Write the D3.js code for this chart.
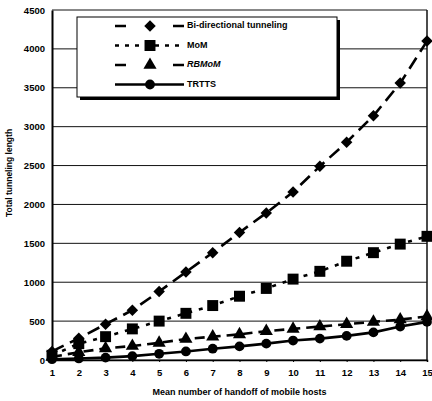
<!DOCTYPE html>
<html>
<head>
<meta charset="utf-8">
<script src="https://cdn.jsdelivr.net/npm/d3@7"></script>
<style>
  html, body { margin: 0; padding: 0; background: #fff; }
  svg { display: block; }
</style>
</head>
<body>
<div id="chart"></div>
<script>
// Total tunneling length vs mean number of handoffs, four schemes.

const handoffs   = [1, 2, 3, 4, 5, 6, 7, 8, 9, 10, 11, 12, 13, 14, 15];
const bidir      = [110, 280, 460, 640, 880, 1130, 1380, 1640, 1890, 2160, 2490, 2800, 3140, 3560, 4100];
const mom        = [60, 210, 300, 400, 500, 600, 700, 820, 920, 1040, 1140, 1270, 1380, 1490, 1590];
const rbmom      = [40, 100, 150, 180, 220, 270, 300, 330, 370, 400, 430, 460, 490, 520, 560];
const trtts      = [10, 20, 30, 50, 80, 110, 145, 175, 210, 250, 275, 310, 355, 430, 490];
const yTicks     = [0, 500, 1000, 1500, 2000, 2500, 3000, 3500, 4000, 4500];
const seriesNames = ["Bi-directional tunneling", "MoM", "RBMoM", "TRTTS"];

const SERIES = [
  { name: seriesNames[0], values: bidir, dash: "13,7", legendDash: "11,47", symbol: "diamond",  italic: false },
  { name: seriesNames[1], values: mom,   dash: "4,7",  legendDash: "4,6",   symbol: "square",   italic: false },
  { name: seriesNames[2], values: rbmom, dash: "10,6", legendDash: "11,47", symbol: "triangle", italic: true  },
  { name: seriesNames[3], values: trtts, dash: null,   legendDash: null,    symbol: "circle",   italic: false },
];

const W = 432, H = 401;
const m = { top: 10, right: 5, bottom: 41, left: 52 };
const iw = W - m.left - m.right;
const ih = H - m.top - m.bottom;
const FONT = "'Liberation Sans', Arial, sans-serif";

const x = d3.scaleLinear().domain([1, 15]).range([0, iw]);
const y = d3.scaleLinear().domain([0, 4500]).range([ih, 0]);

const svg = d3.select("#chart").append("svg")
  .attr("width", W).attr("height", H);

const g = svg.append("g").attr("transform", `translate(${m.left},${m.top})`);

function markerPath(kind) {
  if (kind === "diamond")  return d3.symbol(d3.symbolSquare, 66)();
  if (kind === "square")   return d3.symbol(d3.symbolSquare, 120)();
  if (kind === "triangle") return d3.symbol(d3.symbolTriangle, 75)();
  return d3.symbol(d3.symbolCircle, 75)();
}
function markerRot(kind) { return kind === "diamond" ? " rotate(45)" : ""; }

// Grid
g.selectAll(".grid").data(yTicks).join("line")
  .attr("x1", 0).attr("x2", iw)
  .attr("y1", d => y(d)).attr("y2", d => y(d))
  .attr("stroke", "#111").attr("stroke-width", 1);

// Frame
g.append("line").attr("x1", iw).attr("x2", iw).attr("y1", 0).attr("y2", ih)
  .attr("stroke", "#111").attr("stroke-width", 1.5);

// Y axis
const yAxisG = g.append("g")
  .call(d3.axisLeft(y).tickValues(yTicks).tickSize(0).tickPadding(7).tickFormat(d3.format("d")));
yAxisG.select(".domain").attr("stroke", "#000").attr("stroke-width", 2);
yAxisG.selectAll("text")
  .attr("fill", "#000").attr("font-size", "9.5px").attr("font-weight", "bold")
  .attr("font-family", FONT);

// X axis
const xAxisG = g.append("g")
  .attr("transform", `translate(0,${ih})`)
  .call(d3.axisBottom(x).tickValues(handoffs).tickSize(2).tickPadding(7).tickFormat(d3.format("d")));
xAxisG.select(".domain").attr("stroke", "#000").attr("stroke-width", 1.5);
xAxisG.selectAll(".tick line").attr("stroke", "#000");
xAxisG.selectAll("text")
  .attr("fill", "#000").attr("font-size", "9.5px").attr("font-weight", "bold")
  .attr("font-family", FONT);

// Series
SERIES.forEach(s => {
  const pts = handoffs.map((h, i) => [h, s.values[i]]);
  g.append("path")
    .datum(pts)
    .attr("d", d3.line().x(d => x(d[0])).y(d => y(d[1])))
    .attr("fill", "none")
    .attr("stroke", "#000")
    .attr("stroke-width", 2.6)
    .attr("stroke-dasharray", s.dash);

  g.selectAll(null).data(pts).join("path")
    .attr("d", markerPath(s.symbol))
    .attr("transform", d => `translate(${x(d[0])},${y(d[1])})${markerRot(s.symbol)}`)
    .attr("fill", "#000");
});

// Legend
const lg = svg.append("g").attr("transform", "translate(77,17)");
const LW = 260, LH = 80;
lg.append("rect").attr("x", 3).attr("y", 3).attr("width", LW).attr("height", LH).attr("fill", "#000");
lg.append("rect").attr("x", 0).attr("y", 0).attr("width", LW).attr("height", LH)
  .attr("fill", "#fff").attr("stroke", "#000").attr("stroke-width", 1);

SERIES.forEach((s, i) => {
  const ry = 9 + i * 19.5;
  lg.append("line")
    .attr("x1", 38).attr("x2", 107).attr("y1", ry).attr("y2", ry)
    .attr("stroke", "#000").attr("stroke-width", 2.6)
    .attr("stroke-dasharray", s.legendDash);
  lg.append("path")
    .attr("d", markerPath(s.symbol))
    .attr("transform", `translate(73,${ry})${markerRot(s.symbol)}`)
    .attr("fill", "#000");
  lg.append("text")
    .attr("x", 110).attr("y", ry)
    .attr("dominant-baseline", "middle")
    .attr("font-size", "9px").attr("font-weight", "bold")
    .attr("font-style", s.italic ? "italic" : "normal")
    .attr("font-family", FONT)
    .text(s.name);
});

// Axis titles
svg.append("text")
  .attr("x", m.left + iw / 2).attr("y", H - 6)
  .attr("text-anchor", "middle")
  .attr("font-size", "9px").attr("font-weight", "bold").attr("font-family", FONT)
  .text("Mean number of handoff of mobile hosts");

svg.append("text")
  .attr("transform", `translate(12,${m.top + ih / 2 - 12}) rotate(-90)`)
  .attr("text-anchor", "middle")
  .attr("font-size", "8.5px").attr("font-weight", "bold").attr("font-family", FONT)
  .text("Total tunneling length");
</script>
</body>
</html>
